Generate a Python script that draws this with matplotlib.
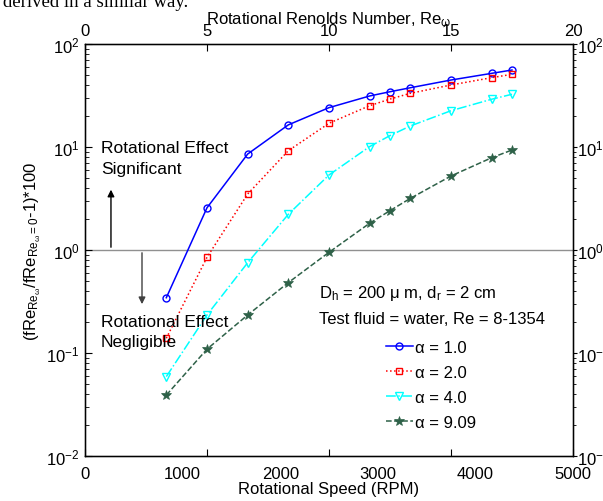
import matplotlib
matplotlib.use("Agg")
import matplotlib.pyplot as plt
import numpy as np

plt.rcParams['font.family'] = ['Liberation Sans', 'DejaVu Sans']
plt.rcParams['mathtext.fontset'] = 'custom'
plt.rcParams['mathtext.rm'] = 'Liberation Sans'
plt.rcParams['mathtext.it'] = 'Liberation Sans'
plt.rcParams['mathtext.default'] = 'regular'

# ---- data ----
rpm = [833, 1250, 1667, 2083, 2500, 2917, 3125, 3333, 3750, 4167, 4375]
alpha_1_0 = [0.344, 2.57, 8.55, 16.4, 24.1, 31.3, 34.4, 37.6, 44.7, 51.9, 55.9]
alpha_2_0 = [0.139, 0.85, 3.5, 9.2, 17.0, 25.2, 29.2, 33.2, 40.0, 47.1, 50.8]
alpha_4_0 = [0.059, 0.234, 0.753, 2.22, 5.35, 10.1, 12.9, 16.0, 22.5, 29.1, 32.5]
alpha_9_09 = [0.039, 0.109, 0.234, 0.482, 0.95, 1.82, 2.41, 3.17, 5.23, 7.87, 9.35]
labels = ['α = 1.0', 'α = 2.0', 'α = 4.0', 'α = 9.09']
rpm_ticks = [0, 1000, 2000, 3000, 4000, 5000]
re_ticks = [0, 5, 10, 15, 20]

fs = 12
fig = plt.figure(figsize=(6.03, 5.02), dpi=100)
ax = fig.add_axes([85/603, 45/502, 488/603, 412/502])

ax.axhline(1.0, color='#909090', lw=1.0, zorder=1)

ax.plot(rpm, alpha_1_0, '-', color='#0000ff', marker='o', mfc='none', ms=5, mew=1, lw=1.1, label=labels[0])
ax.plot(rpm, alpha_2_0, ':', color='#ff0000', marker='s', mfc='none', ms=5, mew=1, lw=1.1, label=labels[1])
ax.plot(rpm, alpha_4_0, '-.', color='#00ffff', marker='v', mfc='none', ms=5.5, mew=1, lw=1.1, label=labels[2])
ax.plot(rpm, alpha_9_09, '--', color='#2e6148', marker='*', ms=7, mew=0.5, lw=1.1, label=labels[3])

ax.set_yscale('log')
ax.set_xlim(0, 5000)
ax.set_ylim(1e-2, 1e2)
ax.set_xticks(rpm_ticks)
ax.tick_params(axis='x', which='both', length=0, labelsize=fs, pad=7)
ax.tick_params(axis='y', which='major', direction='in', length=5, labelsize=fs, pad=4)
ax.tick_params(axis='y', which='minor', direction='in', length=3)
ax.set_xlabel('Rotational Speed (RPM)', fontsize=fs, labelpad=0)
ax.set_ylabel(r'(fRe$_{Re_{ω}}$/fRe$_{Re_{ω}=0}$-1)*100', fontsize=fs, labelpad=2)
for s in ax.spines.values():
    s.set_linewidth(1.0)

# arrows
ax.annotate('', xy=(266, 4.1), xytext=(266, 1.0),
            arrowprops=dict(arrowstyle='-|>', color='black', lw=1.0, mutation_scale=10))
ax.annotate('', xy=(584, 0.28), xytext=(584, 1.0),
            arrowprops=dict(arrowstyle='-|>', color='#404040', lw=1.0, mutation_scale=10))

tfs = 12.5
ax.text(164, 9.8, 'Rotational Effect', fontsize=tfs, va='center', ha='left')
ax.text(164, 6.25, 'Significant', fontsize=tfs, va='center', ha='left')
ax.text(164, 0.20, 'Rotational Effect', fontsize=tfs, va='center', ha='left')
ax.text(164, 0.128, 'Negligible', fontsize=tfs, va='center', ha='left')
ax.text(2398, 0.391, r'D$_h$ = 200 μ m, d$_r$ = 2 cm', fontsize=fs, va='center', ha='left')
ax.text(2398, 0.214, 'Test fluid = water, Re = 8-1354', fontsize=fs, va='center', ha='left')

leg = ax.legend(loc='upper left', bbox_to_anchor=(0.617, 0.281), frameon=False, fontsize=fs,
                handlelength=1.6, handletextpad=0.15, labelspacing=0.6, borderpad=0,
                borderaxespad=0, numpoints=1)

# right axis
axr = ax.twinx()
axr.set_yscale('log')
axr.set_ylim(1e-2, 1e2)
axr.tick_params(axis='y', which='major', direction='out', length=3, labelsize=fs, pad=0)
axr.tick_params(axis='y', which='minor', direction='out', length=2)

# top axis
axt = ax.twiny()
axt.set_xlim(0, 20)
axt.set_xticks(re_ticks)
axt.tick_params(axis='x', direction='in', length=5, labelsize=fs, pad=4, bottom=True, top=True)
axt.set_xlabel('Rotational Renolds Number, Re$_{ω}$', fontsize=fs, labelpad=0)

fig.text(0.005, 1 - 7/502, 'derived in a similar way.', fontsize=13.5, family='Liberation Serif',
         va='baseline', ha='left')

fig.savefig('out.png', dpi=100)
